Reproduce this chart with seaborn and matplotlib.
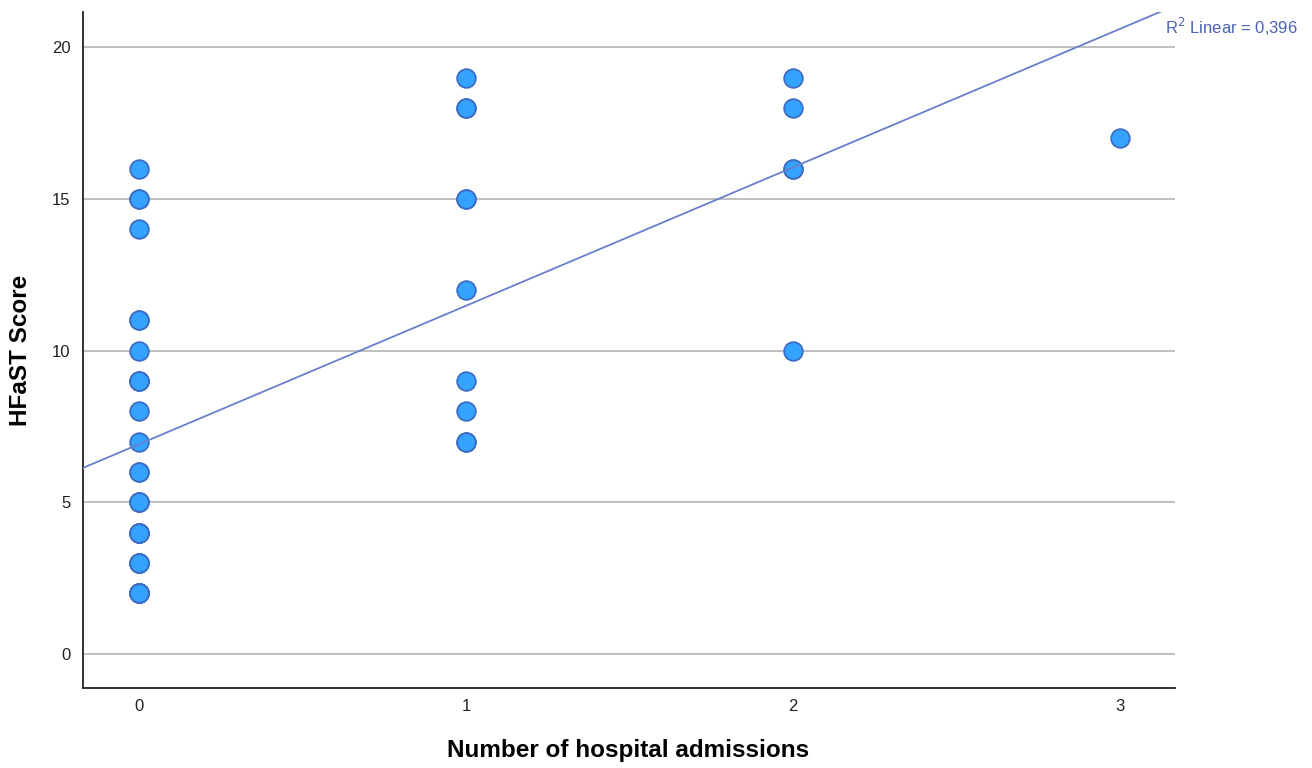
import numpy as np
import pandas as pd
import matplotlib
matplotlib.use("Agg")
import matplotlib.pyplot as plt
import seaborn as sns

# Data; overlapping points estimated as duplicates
admissions_0 = [16, 15, 15, 14, 11, 11, 10, 9, 9, 9, 8, 7, 6, 6, 5, 5, 5,
                4, 4, 4, 4, 3, 3, 3, 3, 2, 2, 2, 2, 2]
admissions_1 = [19, 18, 18, 15, 15, 12, 9, 8, 7, 7]
admissions_2 = [19, 18, 16, 16, 10]
admissions_3 = [17]

x_ticks = [0, 1, 2, 3]
y_ticks = [0, 5, 10, 15, 20]
r2_label = "R$^2$ Linear = 0,396"
x_label = "Number of hospital admissions"
y_label = "HFaST Score"

xs, ys = [], []
for k, vals in enumerate([admissions_0, admissions_1, admissions_2, admissions_3]):
    xs += [x_ticks[k]] * len(vals)
    ys += vals
df = pd.DataFrame({"adm": xs, "score": ys})

sns.set_theme(style="white")
plt.rcParams['font.family'] = ['Liberation Sans', 'DejaVu Sans']

fig = plt.figure(figsize=(13.12, 7.68), dpi=100)
ax = fig.add_axes([0.0633, 0.1042, 0.8323, 0.8798])
ax.set_xlim(-0.171, 3.168)
ax.set_ylim(-1.12, 21.15)

for yv in y_ticks:
    ax.axhline(yv, color="#b4b4b4", lw=1.2, zorder=0)

sns.regplot(data=df, x="adm", y="score", ax=ax, ci=None, truncate=False,
            scatter_kws=dict(s=180, color="#33a3ff", edgecolors="#3d6cc4",
                             linewidths=1.3, alpha=1, zorder=3),
            line_kws=dict(color="#6a7fcc", lw=1.3, zorder=4))

ax.set_xticks(x_ticks)
ax.set_yticks(y_ticks)
ax.tick_params(axis="both", length=0, labelsize=12, colors="#222222")
ax.tick_params(axis="x", pad=8)
ax.tick_params(axis="y", pad=9)
ax.set_xlabel(x_label, fontsize=17.5, fontweight="bold", color="black", va="center")
ax.set_ylabel(y_label, fontsize=17.5, fontweight="bold", color="black", va="center")
ax.xaxis.set_label_coords(0.499, -0.092)
ax.yaxis.set_label_coords(-0.0577, 0.5)

for side in ["top", "right"]:
    ax.spines[side].set_visible(False)
for side in ["left", "bottom"]:
    ax.spines[side].set_color("#222222")
    ax.spines[side].set_linewidth(1.3)

ax.text(1.0 - 0.009, 0.978, r2_label, transform=ax.transAxes, color="#4a62b8",
        fontsize=12, ha="left", va="center", clip_on=False)

fig.savefig("out.png", dpi=100, facecolor="white")
